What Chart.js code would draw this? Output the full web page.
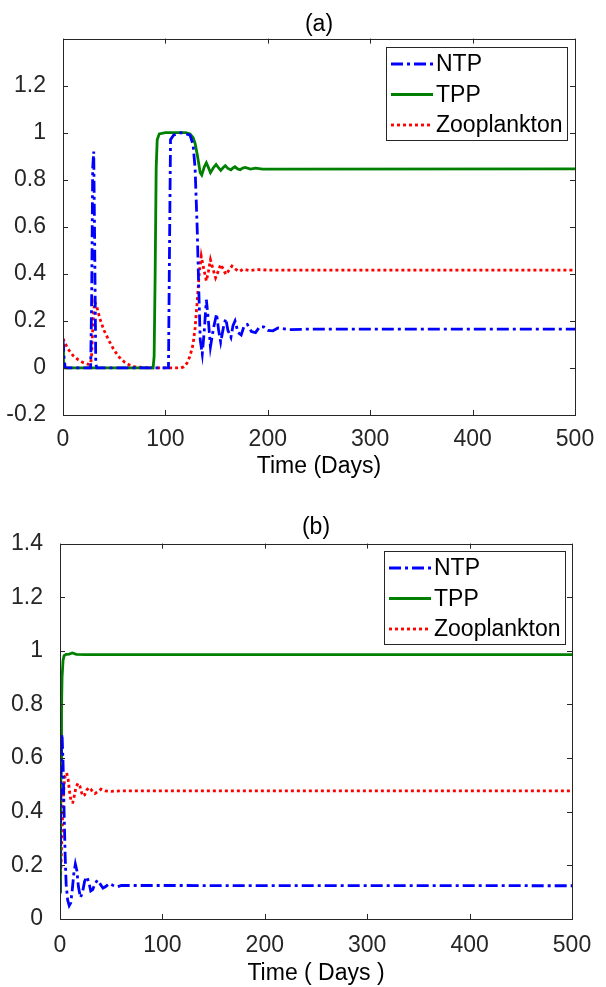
<!DOCTYPE html>
<html>
<head>
<meta charset="utf-8">
<script src="https://cdn.jsdelivr.net/npm/chart.js@4.4.0/dist/chart.umd.min.js"></script>
<style>
  body { margin: 0; background: #fff; }
  #wrap-a { position: absolute; left: 0; top: 0; width: 606px; height: 490px; }
  #wrap-b { position: absolute; left: 0; top: 490px; width: 606px; height: 497px; }
</style>
</head>
<body>
<div id="wrap-a"><canvas id="chart-a"></canvas></div>
<div id="wrap-b"><canvas id="chart-b"></canvas></div>
<script>
// tick values and labels
const xTicks = [0, 100, 200, 300, 400, 500];
const yTicksA = [-0.2, 0, 0.2, 0.4, 0.6, 0.8, 1, 1.2, 1.4];
const yLabelsA = ['-0.2', '0', '0.2', '0.4', '0.6', '0.8', '1', '1.2', ''];
const yTicksB = [0, 0.2, 0.4, 0.6, 0.8, 1, 1.2, 1.4];
const yLabelsB = ['0', '0.2', '0.4', '0.6', '0.8', '1', '1.2', '1.4'];

// (a) NTP
const timeNtpA = [0, 1, 2, 3, 27, 28, 29, 30, 31, 32, 33, 103, 104, 105, 108, 115, 120, 124, 127, 129, 131, 132.5, 134,
  136, 138, 140, 142, 144, 147, 150, 152, 154, 157, 159, 161, 164, 166, 168, 171, 174, 177, 180, 184, 188, 192, 196, 200, 205, 210, 220, 240, 500];
const ntpA = [0.12, 0.05, 0.005, 0, 0, 0.3, 0.85, 0.92, 0.5, 0.02, 0, 0, 0.5, 0.97, 0.99, 1.0, 0.995, 0.99, 0.95, 0.85, 0.6, 0.35, 0.12,
  0.06, 0.16, 0.29, 0.2, 0.09, 0.17, 0.23, 0.16, 0.11, 0.18, 0.21, 0.16, 0.13, 0.18, 0.2, 0.15, 0.14, 0.18, 0.185, 0.155, 0.15, 0.175, 0.175, 0.16, 0.158, 0.17, 0.163, 0.165, 0.165];

// (a) TPP
const timeTppA = [0, 0.5, 1.5, 88, 89, 90, 91, 92, 94, 100, 120, 124, 127, 129, 131, 132.5, 134, 135.5, 138, 140,
  142, 144, 147, 149.5, 152, 154, 156.5, 158.5, 161, 164, 166, 168, 170.5, 173, 175.5, 178, 183, 188, 195, 500];
const tppA = [0.1, 0.03, 0, 0, 0.05, 0.4, 0.85, 0.97, 0.995, 1.0, 1.0, 0.995, 0.98, 0.955, 0.91, 0.87, 0.83, 0.82, 0.855, 0.872,
  0.852, 0.83, 0.852, 0.865, 0.85, 0.84, 0.852, 0.86, 0.848, 0.842, 0.85, 0.855, 0.846, 0.843, 0.85, 0.852, 0.845, 0.849, 0.845, 0.846];

// (a) Zooplankton
const timeZooA = [0, 2, 5, 10, 15, 20, 25, 27, 28, 29, 30, 31, 33, 36, 40, 45, 50, 55, 60, 65, 70, 80, 115, 118, 121, 124, 127, 129, 131, 133,
  135, 137.5, 140, 142, 144, 146.5, 149, 151.5, 154, 156.5, 159, 162, 165, 168.5, 172, 176, 182, 190, 200, 500];
const zooA = [0.125, 0.105, 0.08, 0.052, 0.034, 0.022, 0.015, 0.016, 0.06, 0.16, 0.24, 0.28, 0.26, 0.21, 0.16, 0.115, 0.075, 0.045, 0.025, 0.012,
  0.005, 0.001, 0, 0.005, 0.02, 0.05, 0.1, 0.17, 0.28, 0.4, 0.475, 0.42, 0.37, 0.41, 0.46, 0.42, 0.383, 0.41, 0.44, 0.42,
  0.397, 0.415, 0.433, 0.42, 0.41, 0.42, 0.414, 0.418, 0.416, 0.416];

// (b) NTP
const timeNtpB = [0, 0.5, 1, 1.5, 2, 3, 4, 5, 6, 7.5, 9, 10.5, 12, 13.5, 15, 16.5, 18, 20, 22, 24,
  26, 28, 30, 32, 34, 36.5, 39, 42, 45, 48, 52, 56, 60, 500];
const ntpB = [0.1, 0.3, 0.55, 0.67, 0.69, 0.58, 0.4, 0.24, 0.13, 0.07, 0.05, 0.06, 0.11, 0.17, 0.205, 0.18, 0.12, 0.08, 0.1, 0.14,
  0.158, 0.14, 0.105, 0.11, 0.13, 0.145, 0.132, 0.115, 0.122, 0.132, 0.125, 0.12, 0.125, 0.124];

// (b) TPP
const timeTppB = [0, 0.5, 1, 1.5, 2, 3, 4, 6, 9, 12, 16, 25, 500];
const tppB = [0.1, 0.3, 0.58, 0.78, 0.9, 0.965, 0.982, 0.987, 0.988, 0.992, 0.987, 0.986, 0.986];

// (b) Zooplankton
const timeZooB = [0, 1, 2, 3, 4, 5, 6.5, 8, 9.5, 11, 12.5, 14, 15.5, 17.5, 19.5, 21, 22.5, 24, 26, 28,
  30, 32, 34, 37, 40, 44, 50, 60, 500];
const zooB = [0.1, 0.2, 0.33, 0.43, 0.5, 0.535, 0.545, 0.52, 0.47, 0.435, 0.435, 0.46, 0.49, 0.506, 0.495, 0.472, 0.458, 0.462, 0.48, 0.49,
  0.485, 0.474, 0.468, 0.475, 0.484, 0.478, 0.476, 0.478, 0.478];

const FONT = '"Liberation Sans", Arial, sans-serif';
const AXIS_COLOR = '#262626';
Chart.defaults.font.family = FONT;
Chart.defaults.font.size = 23;
Chart.defaults.color = AXIS_COLOR;

// pair up times and values for a linear x axis
function toPoints(times, values) {
  return times.map((t, i) => ({ x: t, y: values[i] }));
}

// MATLAB-like box with inward ticks on all four sides
const boxPlugin = {
  id: 'matlabBox',
  afterDraw(chart) {
    const { ctx, chartArea: a, scales: { x, y } } = chart;
    ctx.save();
    ctx.strokeStyle = AXIS_COLOR;
    ctx.lineWidth = 1;
    ctx.beginPath();
    x.ticks.forEach(t => {
      const px = Math.round(x.getPixelForValue(t.value)) + 0.5;
      ctx.moveTo(px, a.bottom); ctx.lineTo(px, a.bottom - 5);
      ctx.moveTo(px, a.top); ctx.lineTo(px, a.top + 5);
    });
    y.ticks.forEach(t => {
      const py = Math.round(y.getPixelForValue(t.value)) + 0.5;
      ctx.moveTo(a.left, py); ctx.lineTo(a.left + 5, py);
      ctx.moveTo(a.right, py); ctx.lineTo(a.right - 5, py);
    });
    ctx.stroke();
    ctx.strokeRect(Math.round(a.left) + 0.5, Math.round(a.top) + 0.5,
      Math.round(a.right - a.left), Math.round(a.bottom - a.top));
    ctx.restore();
  }
};

// legend drawn inside the top right corner of the plot
const insideLegend = {
  id: 'insideLegend',
  afterDraw(chart, args, opts) {
    const { ctx, chartArea: a } = chart;
    const w = 181, h = 93, row = 30.5;
    const left = Math.round(a.right - opts.inset - w), top = Math.round(a.top + opts.inset);
    ctx.save();
    ctx.fillStyle = '#fff';
    ctx.fillRect(left, top, w, h);
    ctx.strokeStyle = AXIS_COLOR;
    ctx.lineWidth = 1;
    ctx.strokeRect(left + 0.5, top + 0.5, w, h);
    chart.data.datasets.forEach((ds, i) => {
      const cy = top + 17 + i * row;
      ctx.strokeStyle = ds.borderColor;
      ctx.lineWidth = ds.borderWidth;
      ctx.setLineDash(ds.borderDash || []);
      ctx.beginPath();
      ctx.moveTo(left + 5, cy);
      ctx.lineTo(left + 47, cy);
      ctx.stroke();
      ctx.setLineDash([]);
      ctx.fillStyle = '#000';
      ctx.font = '23px ' + FONT;
      ctx.textBaseline = 'middle';
      ctx.fillText(ds.label, left + 50, cy + 1);
    });
    ctx.restore();
  }
};

function makeChart(id, p) {
  return new Chart(document.getElementById(id), {
    type: 'line',
    data: {
      datasets: [
        { label: 'NTP', data: toPoints(p.ntp[0], p.ntp[1]), borderColor: '#0000ff', borderWidth: 2.8, borderDash: [12, 4, 3, 4] },
        { label: 'TPP', data: toPoints(p.tpp[0], p.tpp[1]), borderColor: '#008000', borderWidth: 2.8 },
        { label: 'Zooplankton', data: toPoints(p.zoo[0], p.zoo[1]), borderColor: '#ff0000', borderWidth: 2.8, borderDash: [3, 3] }
      ]
    },
    options: {
      responsive: true,
      maintainAspectRatio: false,
      animation: false,
      elements: { point: { radius: 0 }, line: { tension: 0 } },
      layout: { padding: { right: p.right } },
      plugins: {
        legend: { display: false },
        tooltip: { enabled: false },
        title: {
          display: true, text: p.title, color: '#000', fullSize: false,
          font: { size: 23, weight: 'normal' }, padding: p.titlePad
        },
        insideLegend: { inset: p.inset }
      },
      scales: {
        x: {
          type: 'linear', min: 0, max: 500,
          afterBuildTicks: s => { s.ticks = xTicks.map(v => ({ value: v })); },
          afterFit: s => { s.height = p.xHeight; },
          grid: { display: false },
          border: { display: false },
          ticks: { padding: p.xTickPad, maxRotation: 0, color: AXIS_COLOR },
          title: { display: true, text: p.xTitle, color: '#000', font: { size: 23 }, padding: { top: 0, bottom: p.xTitleBottom } }
        },
        y: {
          min: p.yTicks[0], max: p.yTicks[p.yTicks.length - 1],
          afterBuildTicks: s => { s.ticks = p.yTicks.map(v => ({ value: v })); },
          afterFit: s => { s.width = p.yWidth; },
          grid: { display: false },
          border: { display: false },
          ticks: { padding: 9, color: AXIS_COLOR, callback: (v, i) => p.yLabels[i] }
        }
      }
    },
    plugins: [boxPlugin, insideLegend]
  });
}

makeChart('chart-a', {
  title: '(a)', xTitle: 'Time (Days)',
  ntp: [timeNtpA, ntpA], tpp: [timeTppA, tppA], zoo: [timeZooA, zooA],
  yTicks: yTicksA, yLabels: yLabelsA,
  titlePad: { top: 11, bottom: 0 }, yWidth: 63, xHeight: 75, right: 31, xTickPad: 3, xTitleBottom: 10, inset: 8
});

makeChart('chart-b', {
  title: '(b)', xTitle: 'Time ( Days )',
  ntp: [timeNtpB, ntpB], tpp: [timeTppB, tppB], zoo: [timeZooB, zooB],
  yTicks: yTicksB, yLabels: yLabelsB,
  titlePad: { top: 24, bottom: 2 }, yWidth: 60, xHeight: 68, right: 34, xTickPad: 5, xTitleBottom: 0, inset: 7
});
</script>
</body>
</html>
